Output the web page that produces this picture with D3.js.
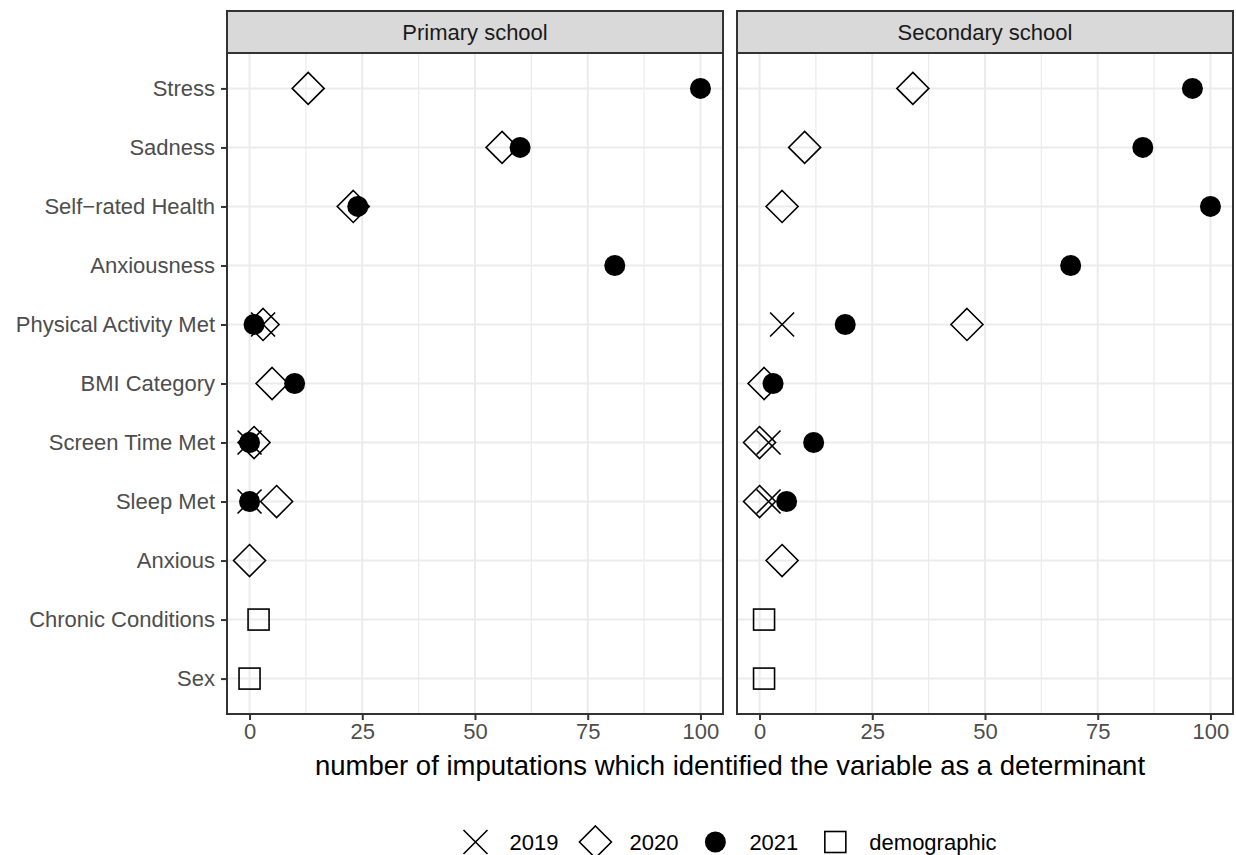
<!DOCTYPE html>
<html>
<head>
<meta charset="utf-8">
<script src="https://cdn.jsdelivr.net/npm/d3@7"></script>
<style>
  body { margin: 0; background: #fff; }
  text { font-family: "Liberation Sans", Arial, sans-serif; }
</style>
</head>
<body>
<div id="chart"></div>
<script>
// categories, top to bottom
const categories = ["Stress", "Sadness", "Self\u2212rated Health", "Anxiousness", "Physical Activity Met",
    "BMI Category", "Screen Time Met", "Sleep Met", "Anxious", "Chronic Conditions", "Sex"];
const panels = ["Primary school", "Secondary school"];
const series = ["2019", "2020", "2021", "demographic"];
const xTicks = [0, 25, 50, 75, 100];

// values (null = no point)
const primary2019 = [null, null, null, null, 3, null, 0, 0, null, null, null];
const primary2020 = [13, 56, 23, null, 3, 5, 1, 6, 0, null, null];
const primary2021 = [100, 60, 24, 81, 1, 10, 0, 0, null, null, null];
const primaryDemo = [null, null, null, null, null, null, null, null, null, 2, 0];

const secondary2019 = [null, null, null, null, 5, null, 2, 2, null, null, null];
const secondary2020 = [34, 10, 5, null, 46, 1, 0, 0, 5, null, null];
const secondary2021 = [96, 85, 100, 69, 19, 3, 12, 6, null, null, null];
const secondaryDemo = [null, null, null, null, null, null, null, null, null, 1, 1];

const panelData = [
    [primary2019, primary2020, primary2021, primaryDemo],
    [secondary2019, secondary2020, secondary2021, secondaryDemo]
];

const width = 1236, height = 855;
const panelLeft = [227, 737];
const panelW = 496;
const stripTop = 11, panelTop = 53, panelBottom = 714;
const textGrey = "#4d4d4d";
const smallFont = "22px";

const svg = d3.select("#chart")
    .append("svg")
    .attr("width", width)
    .attr("height", height);

const yScale = d3.scalePoint()
    .domain(categories)
    .range([panelTop, panelBottom])
    .padding(0.6);

// marker drawing, one per series
function drawMarker(g, type, cx, cy) {
    if (type === "2019") {
        const a = 12;
        g.append("path")
            .attr("d", `M${cx - a},${cy - a}L${cx + a},${cy + a}M${cx - a},${cy + a}L${cx + a},${cy - a}`)
            .attr("stroke", "#000").attr("stroke-width", 1.6).attr("fill", "none");
    } else if (type === "2020") {
        const a = 16;
        g.append("path")
            .attr("d", `M${cx},${cy - a}L${cx + a},${cy}L${cx},${cy + a}L${cx - a},${cy}Z`)
            .attr("stroke", "#000").attr("stroke-width", 1.6).attr("fill", "none");
    } else if (type === "2021") {
        g.append("circle")
            .attr("cx", cx).attr("cy", cy).attr("r", 10.5)
            .attr("fill", "#000");
    } else {
        const a = 10.5;
        g.append("rect")
            .attr("x", cx - a).attr("y", cy - a)
            .attr("width", 2 * a).attr("height", 2 * a)
            .attr("stroke", "#000").attr("stroke-width", 1.6).attr("fill", "none");
    }
}

panels.forEach((name, p) => {
    const x0 = panelLeft[p];
    const xScale = d3.scaleLinear()
        .domain([-5, 105])
        .range([x0, x0 + panelW]);

    const g = svg.append("g");

    // panel background
    g.append("rect")
        .attr("x", x0).attr("y", panelTop)
        .attr("width", panelW).attr("height", panelBottom - panelTop)
        .attr("fill", "#fff");

    // minor gridlines
    const minor = xTicks.slice(0, -1).map(d => d + 12.5);
    g.selectAll(".minor")
        .data(minor)
        .join("line")
        .attr("x1", d => xScale(d)).attr("x2", d => xScale(d))
        .attr("y1", panelTop).attr("y2", panelBottom)
        .attr("stroke", "#ebebeb").attr("stroke-width", 1.2);

    // major gridlines
    g.selectAll(".vmajor")
        .data(xTicks)
        .join("line")
        .attr("x1", d => xScale(d)).attr("x2", d => xScale(d))
        .attr("y1", panelTop).attr("y2", panelBottom)
        .attr("stroke", "#ebebeb").attr("stroke-width", 2);

    g.selectAll(".hmajor")
        .data(categories)
        .join("line")
        .attr("x1", x0).attr("x2", x0 + panelW)
        .attr("y1", d => yScale(d)).attr("y2", d => yScale(d))
        .attr("stroke", "#ebebeb").attr("stroke-width", 2);

    // points
    const pts = g.append("g");
    series.forEach((s, i) => {
        panelData[p][i].forEach((v, j) => {
            if (v === null) return;
            drawMarker(pts, s, xScale(v), yScale(categories[j]));
        });
    });

    // panel border
    g.append("rect")
        .attr("x", x0).attr("y", panelTop)
        .attr("width", panelW).attr("height", panelBottom - panelTop)
        .attr("fill", "none").attr("stroke", "#333").attr("stroke-width", 2);

    // strip
    g.append("rect")
        .attr("x", x0).attr("y", stripTop)
        .attr("width", panelW).attr("height", panelTop - stripTop)
        .attr("fill", "#d9d9d9").attr("stroke", "#333").attr("stroke-width", 2);
    g.append("text")
        .attr("x", x0 + panelW / 2).attr("y", (stripTop + panelTop) / 2)
        .attr("text-anchor", "middle").attr("dominant-baseline", "central")
        .attr("fill", "#1a1a1a").style("font-size", smallFont)
        .text(name);

    // x axis
    const xAxis = svg.append("g")
        .attr("transform", `translate(0,${panelBottom})`)
        .call(d3.axisBottom(xScale).tickValues(xTicks).tickSize(6).tickPadding(3));
    xAxis.select(".domain").remove();
    xAxis.selectAll(".tick line").attr("stroke", "#333").attr("stroke-width", 2);
    xAxis.selectAll(".tick text")
        .attr("fill", textGrey)
        .style("font-size", smallFont)
        .style("font-family", "Liberation Sans, Arial, sans-serif");

    // y axis only on first panel
    if (p === 0) {
        const yAxis = svg.append("g")
            .attr("transform", `translate(${x0},0)`)
            .call(d3.axisLeft(yScale).tickSize(6).tickPadding(6));
        yAxis.select(".domain").remove();
        yAxis.selectAll(".tick line").attr("stroke", "#333").attr("stroke-width", 2);
        yAxis.selectAll(".tick text")
            .attr("fill", textGrey)
            .style("font-size", smallFont)
            .style("font-family", "Liberation Sans, Arial, sans-serif");
    }
});

// x axis title
svg.append("text")
    .attr("x", (panelLeft[0] + panelLeft[1] + panelW) / 2)
    .attr("y", 775)
    .attr("text-anchor", "middle")
    .attr("fill", "#000")
    .style("font-size", "27.5px")
    .text("number of imputations which identified the variable as a determinant");

// legend
const legend = svg.append("g");
let cursor = 0;
series.forEach((s, i) => {
    drawMarker(legend, s, cursor, 842);
    const t = legend.append("text")
        .attr("x", cursor + 34).attr("y", 842)
        .attr("dominant-baseline", "central")
        .attr("fill", "#000")
        .style("font-size", smallFont)
        .text(s);
    const w = t.node().getComputedTextLength();
    cursor = cursor + 34 + w + 37;
});
const lb = legend.node().getBBox();
const centre = (panelLeft[0] + panelLeft[1] + panelW) / 2;
legend.attr("transform", `translate(${centre - (lb.x + lb.width / 2)},0)`);
</script>
</body>
</html>
